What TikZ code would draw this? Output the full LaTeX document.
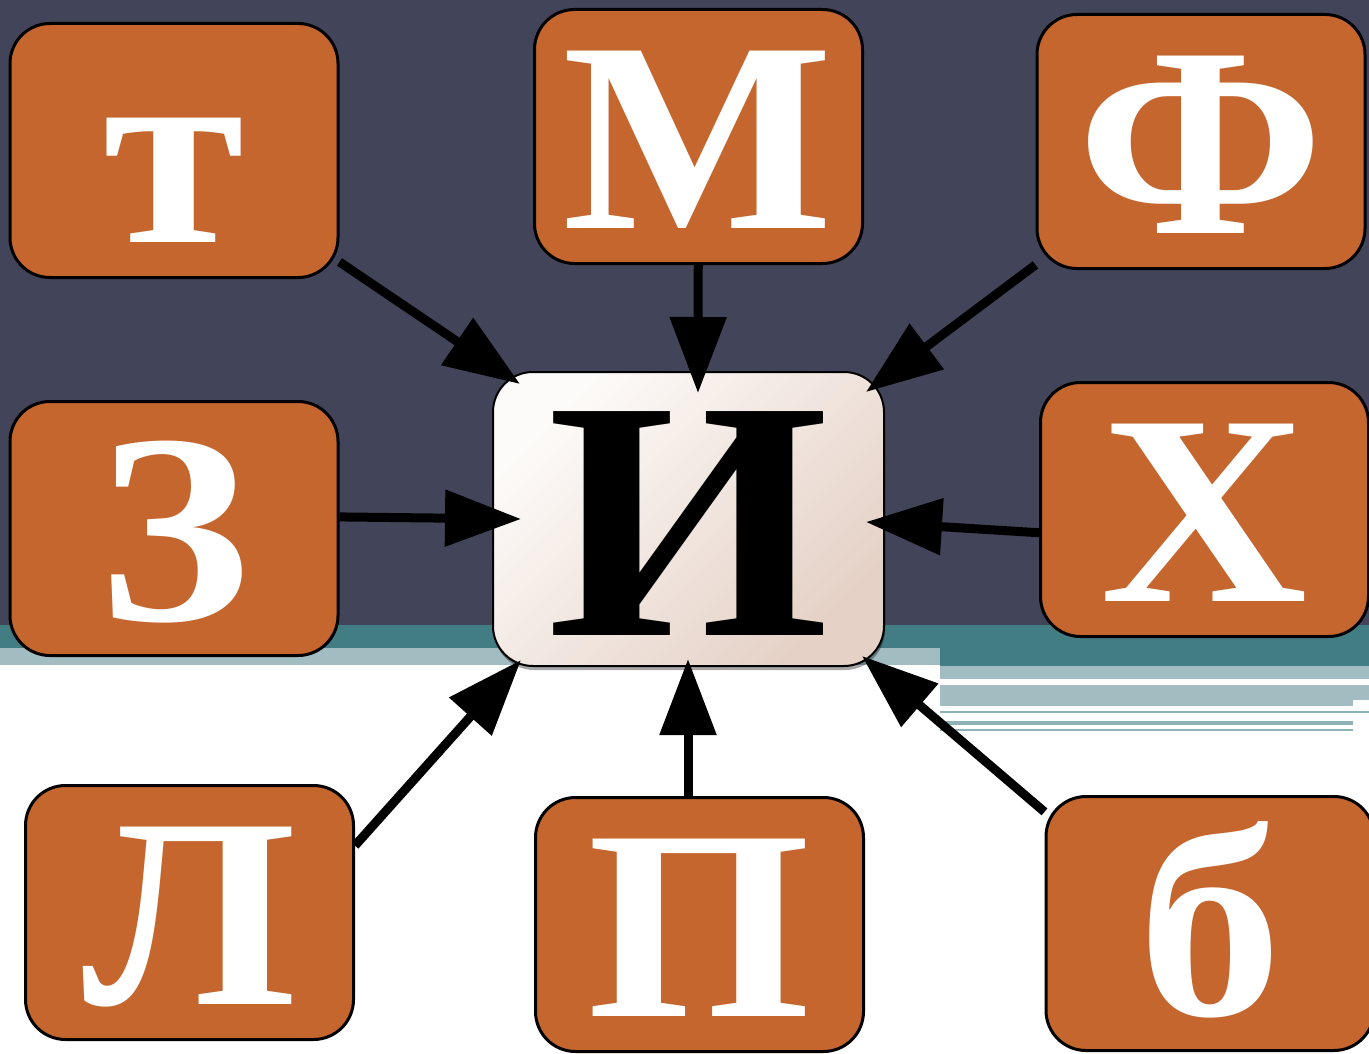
\documentclass[tikz,border=0pt]{standalone}
\usepackage{fontspec}
\setmainfont[FakeStretch=1.06]{Liberation Serif}
\usetikzlibrary{arrows.meta,shadows,calc}
\pgfdeclarelayer{bgl}
\pgfdeclarelayer{clay}
\pgfdeclarelayer{edgel}
\pgfsetlayers{bgl,clay,edgel,main}
\definecolor{slate}{HTML}{424459}
\definecolor{tealc}{HTML}{437D84}
\definecolor{lightc}{HTML}{A1BDC1}
\definecolor{linec}{HTML}{8EB2B6}
\definecolor{orangec}{HTML}{C4662E}
\definecolor{ilight}{HTML}{FDFBF9}
\definecolor{idark}{HTML}{E5D1C6}
\tikzset{
  obox/.style={draw=black, line width=3pt, fill=orangec, rounded corners=40pt,
    inner sep=0pt, minimum width=328pt, text height=219pt, text depth=35pt,
    text=white, font=\bfseries\fontsize{271pt}{273pt}\selectfont},
  cbox/.style={draw=black, line width=2pt, rounded corners=40pt,
    top color=ilight, bottom color=idark, shading angle=45,
    drop shadow={shadow xshift=1pt, shadow yshift=-4pt, fill=black, opacity=0.35},
    inner sep=0pt, minimum width=391pt, text height=263pt, text depth=31pt,
    text=black, font=\bfseries\fontsize{342pt}{344pt}\selectfont},
  arr/.style={draw=black, line width=9pt, -{Triangle[length=76pt,width=55pt]}}
}
\begin{document}
\begin{tikzpicture}[x=1pt,y=-1pt]
\useasboundingbox (0,0) rectangle (1369,1054);
\begin{pgfonlayer}{bgl}
\fill[white] (0,0) rectangle (1369,1054);
\fill[slate] (0,0) rectangle (1369,625);
\fill[tealc] (0,625) rectangle (940,648);
\fill[tealc] (940,625) rectangle (1369,666);
\fill[lightc] (0,648) rectangle (940,665);
\fill[lightc] (940,666) rectangle (1369,679);
\fill[lightc] (940,685) rectangle (1369,700);
\fill[lightc] (940,700) rectangle (1353,706);
\fill[linec] (940,711) rectangle (1369,713);
\fill[linec] (940,721) rectangle (1353,725);
\fill[linec] (940,729) rectangle (1353,731);
\end{pgfonlayer}

\node[obox] (T) at (174,150.5) {т};
\node[obox] (M) at (698.5,136.5) {М};
\node[obox] (F) at (1201,141.5) {Ф};
\node[obox] (Z) at (174,528.5) {З};
\node[obox] (X) at (1204.5,509.5) {Х};
\node[obox] (L) at (189.5,912.5) {Л};
\node[obox] (P) at (699.5,924.5) {П};
\node[obox] (B) at (1210,923.5) {б};
\begin{pgfonlayer}{clay}
\node[cbox] (I) at (688.5,519) {И};
\end{pgfonlayer}

\coordinate (tT) at ($(I.center)+(-168.5,-135)$);
\coordinate (tM) at ($(I.center)+(9.5,-126)$);
\coordinate (tF) at ($(I.center)+(177.5,-127)$);
\coordinate (tZ) at ($(I.center)+(-167.5,0)$);
\coordinate (tX) at ($(I.center)+(177.5,3)$);
\coordinate (tL) at ($(I.center)+(-167.5,141)$);
\coordinate (tP) at ($(I.center)+(-0.5,140)$);
\coordinate (tB) at ($(I.center)+(173.5,137)$);

\begin{pgfonlayer}{edgel}
\draw[arr] (T) -- (tT);
\draw[arr] (M) -- (tM);
\draw[arr] (F) -- (tF);
\draw[arr] (Z.4) -- (tZ);
\draw[arr] (X.188) -- (tX);
\draw[arr] (L.22) -- (tL);
\draw[arr] (tP |- P.north) -- (tP);
\draw[arr] (B.146) -- (tB);
\end{pgfonlayer}
\end{tikzpicture}
\end{document}
